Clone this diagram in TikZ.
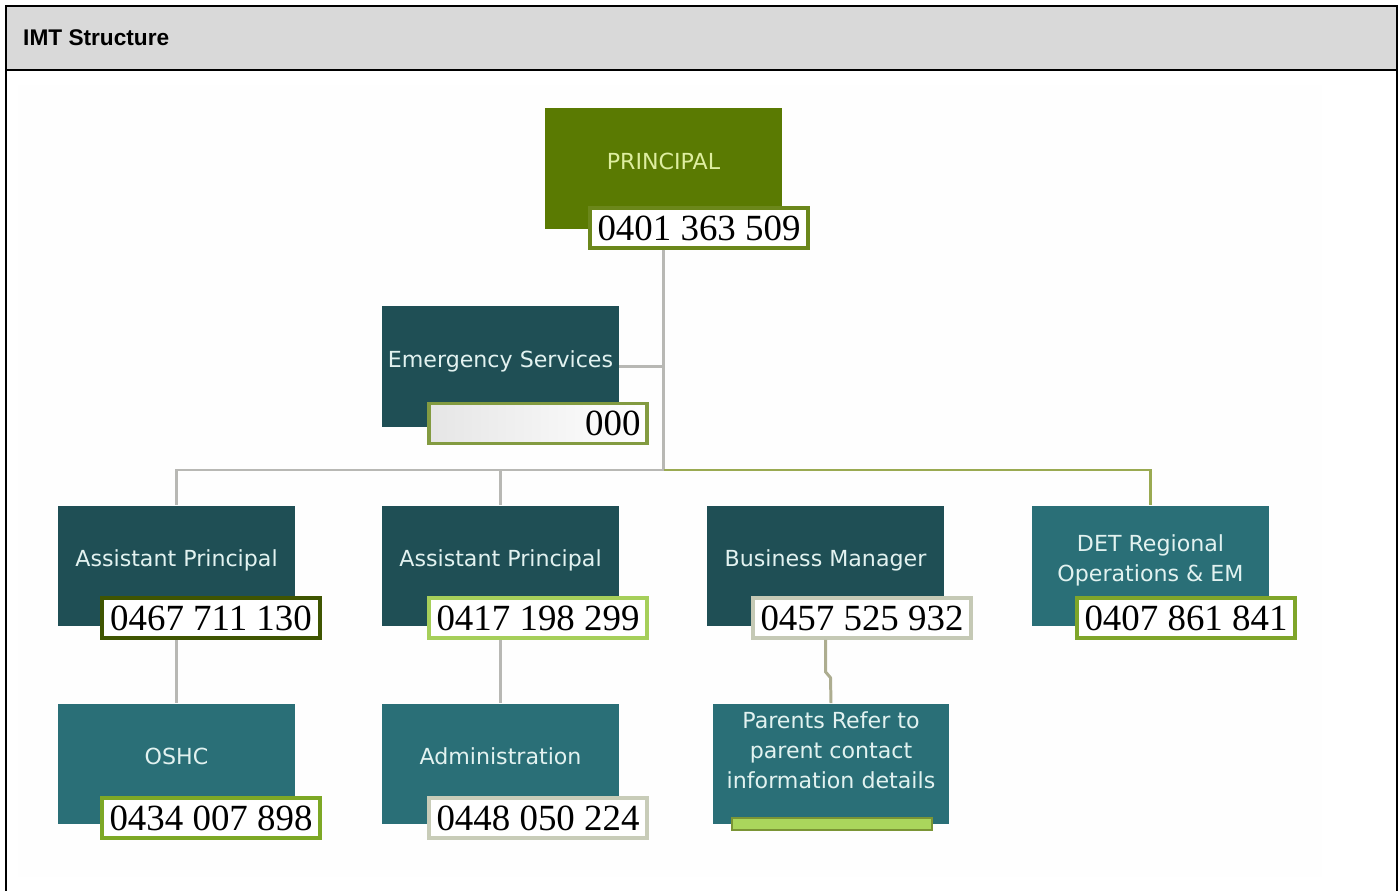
\documentclass[tikz,border=0pt]{standalone}
\usepackage{fontspec}
\setmainfont{DejaVu Sans}
\newfontfamily\phonefont{Liberation Serif}
\newfontfamily\headfont{Liberation Sans}
\definecolor{leaf}{RGB}{90,122,2}
\definecolor{deepteal}{RGB}{31,79,85}
\definecolor{midteal}{RGB}{42,111,119}
\definecolor{leaftext}{RGB}{222,238,160}
\definecolor{tealtext}{RGB}{226,242,240}
\definecolor{linkgray}{RGB}{184,184,180}
\definecolor{linkleaf}{RGB}{154,170,82}
\definecolor{headgray}{RGB}{217,217,217}
\definecolor{paper}{RGB}{254,254,254}
\begin{document}
\begin{tikzpicture}[x=0.02cm,y=-0.02cm,
    unit/.style={rectangle,minimum width=4.74cm,minimum height=2.42cm,inner sep=0pt,
      align=center,text depth=0.3cm,text=tealtext,font=\fontsize{12.6}{17}\selectfont},
    phone/.style={rectangle,draw,line width=2pt,fill=white,minimum width=4.36cm,
      minimum height=0.8cm,inner sep=0pt,font=\phonefont\fontsize{21}{21}\selectfont},
    link/.style={line width=1.7pt,draw=linkgray}]
  \useasboundingbox (0,0) rectangle (1400,891);
  \fill[paper] (18,85) rectangle (1322,877);
  \fill[headgray] (6,6) rectangle (1397,70);
  \draw[line width=1.2pt] (6,891) -- (6,6) -- (1397,6) -- (1397,891);
  \draw[line width=1.2pt] (6,70) -- (1397,70);
  \node[anchor=west,font=\headfont\bfseries\fontsize{12.9}{15}\selectfont] (title) at (17,38) {IMT Structure};
  \draw
    (663.5,168.5) node[unit,fill=leaf,text=leaftext] (pr) {PRINCIPAL}
    (699,228) node[phone,draw=leaf!90!white] (prph) {0401 363 509}
    (500.5,366.5) node[unit,fill=deepteal] (es) {Emergency Services}
    (538,423.5) node[phone,draw=leaf!75!white,left color=black!10,right color=white,
      text width=4.1cm,align=right] (esph) {000}
    (176.5,566) node[unit,fill=deepteal] (ap1) {Assistant Principal}
    (211,618) node[phone,draw=leaf!70!black] (ap1ph) {0467 711 130}
    (500.5,566) node[unit,fill=deepteal] (ap2) {Assistant Principal}
    (538,618) node[phone,draw={rgb,255:red,166;green,207;blue,90}] (ap2ph) {0417 198 299}
    (825.5,566) node[unit,fill=deepteal] (bm) {Business Manager}
    (862,618) node[phone,draw={rgb,255:red,197;green,201;blue,181}] (bmph) {0457 525 932}
    (1150.5,566) node[unit,fill=midteal] (det) {DET Regional\\Operations \& EM}
    (1186,618) node[phone,draw={rgb,255:red,127;green,165;blue,42}] (detph) {0407 861 841}
    (176.5,764) node[unit,fill=midteal] (oshc) {OSHC}
    (211,818) node[phone,draw={rgb,255:red,125;green,168;blue,37}] (oshcph) {0434 007 898}
    (500.5,764) node[unit,fill=midteal] (adm) {Administration}
    (538,818) node[phone,draw={rgb,255:red,200;green,204;blue,184}] (admph) {0448 050 224}
    (831,764) node[unit,fill=midteal,text depth=0.55cm] (par) {Parents Refer to\\parent contact\\information details}
    (832,824) node[rectangle,draw=leaf!80!white,line width=1pt,
      fill={rgb,255:red,170;green,214;blue,92},minimum width=4cm,minimum height=0.22cm] (parbar) {};
  \coordinate (bus) at (663.5,470);
  \begin{scope}[link]
    \draw (pr.south |- prph.south) -- (bus);
    \draw (es.east) -- (es.east -| bus);
    \draw (bus) -| (ap1.north);
    \draw (bus) -| (ap2.north);
    \draw[draw=linkleaf] (bus) -| (det.north);
    \draw (ap1.south |- ap1ph.south) -- (oshc.north);
    \draw (ap2.south |- ap2ph.south) -- (adm.north);
    \draw[draw=linkgray!80!olive] (bm.south |- bmph.south) -- ++(0,32) -- ++(5,6) -- (par.north);
  \end{scope}
\end{tikzpicture}
\end{document}
